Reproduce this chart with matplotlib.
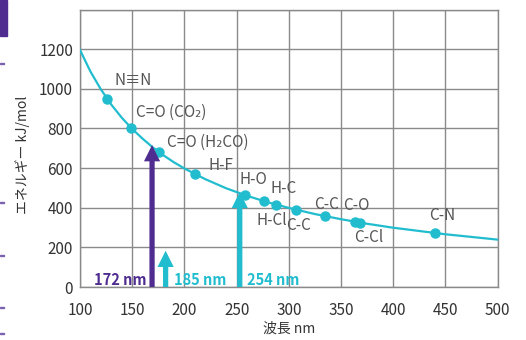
import matplotlib
matplotlib.use("Agg")
import matplotlib.pyplot as plt
from matplotlib.patches import Rectangle

plt.rcParams['font.family'] = ['Noto Sans CJK JP', 'DejaVu Sans']

# Curve E(λ)
curve_wl = [100, 110, 120, 130, 140, 150, 160, 170, 180, 190, 200, 220, 240,
            260, 280, 300, 325, 350, 375, 400, 450, 500]
curve_e = [1196, 1087, 997, 920, 854, 797, 748, 703, 664, 629, 598, 544, 498,
           460, 427, 399, 368, 342, 319, 299, 266, 239]

# Bond points
bond_labels = ["N≡N", "C=O (CO₂)", "C=O (H₂CO)", "H-F", "H-O", "H-Cl",
               "H-C", "C-C", "C-C", "C-O", "C-Cl", "C-N"]
bond_wl = [126, 149, 176, 210, 258, 276, 288, 307, 335, 363, 368, 440]
bond_e = [950, 803, 680, 570, 463, 433, 415, 390, 357, 329, 325, 272]

# Light source arrows (as drawn in the picture)
arrow_wl = [169, 182, 253]
arrow_e = [716, 183, 480]
arrow_labels = ["172 nm", "185 nm", "254 nm"]

x_ticks = [100, 150, 200, 250, 300, 350, 400, 450, 500]
y_ticks = [0, 200, 400, 600, 800, 1000, 1200]

PURPLE = "#4F2C8F"
CYAN = "#21BDCF"
GRID = "#8A8A8A"
TXT = "#555555"

fig = plt.figure(figsize=(5.26, 3.40), dpi=100)
ax = fig.add_axes([80/526, 1-287/340, (497.7-80)/526, (287-9.5)/340])
ax.set_xlim(100, 500)
ax.set_ylim(0, 1400)
ax.set_xticks(x_ticks)
ax.set_yticks(y_ticks + [1400])
ax.set_yticklabels([str(v) for v in y_ticks] + [""])
ax.grid(True, color=GRID, lw=1.0)
ax.set_axisbelow(True)
for s in ax.spines.values():
    s.set_color(GRID)
    s.set_linewidth(1.0)
ax.tick_params(length=0, labelsize=11, colors="#333333")
ax.tick_params(axis='y', pad=5)
ax.tick_params(axis='x', pad=11)

ax.plot(curve_wl, curve_e, color=CYAN, lw=1.6, zorder=3)
ax.plot(bond_wl, bond_e, 'o', color=CYAN, ms=6.5, zorder=4)

# label offsets (points) and alignment
offs = [(19, 13, 'center'), (3.5, 11.5, 'left'), (5.5, 7, 'left'), (19, 6, 'center'),
        (6, 11, 'center'), (6, -14, 'center'), (5, 11.5, 'center'), (1.5, -11.5, 'center'),
        (1, 8.5, 'center'), (1, 11.5, 'center'), (6.5, -11, 'center'), (5, 13, 'center')]
for lab, x, y, (dx, dy, ha) in zip(bond_labels, bond_wl, bond_e, offs):
    ax.annotate(lab, (x, y), xytext=(dx, dy), textcoords='offset points',
                ha=ha, va='center', fontsize=11, color=TXT, zorder=5)

arrow_colors = [PURPLE, CYAN, CYAN]
for x, e, c in zip(arrow_wl, arrow_e, arrow_colors):
    ax.arrow(x, 0, 0, e, width=5.0, head_width=15.5, head_length=82,
             length_includes_head=True, color=c, lw=0, zorder=6)

lab_off = [(-3.8, 'right'), (6, 'left'), (5, 'left')]
for x, lab, c, (dx, ha) in zip(arrow_wl, arrow_labels, arrow_colors, lab_off):
    ax.annotate(lab, (x, 0), xytext=(dx, 1.5), textcoords='offset points',
                ha=ha, va='baseline', fontsize=10.5, fontweight='bold', color=c)

fig.text(23/526, 1-155/340, "エネルギー kJ/mol", rotation=90, ha='center',
         va='center', fontsize=10, color="#333333")
fig.text(289/526, 1-329/340, "波長 nm", ha='center', va='center',
         fontsize=10, color="#333333")

# decorative edge marks from the page
fig.patches.append(Rectangle((0, 1-36/340), 7/526, 36/340, transform=fig.transFigure,
                             color=PURPLE, zorder=0))
for yy in [63, 202, 255, 307, 333]:
    fig.patches.append(Rectangle((0, 1-(yy+1)/340), 4/526, 1.5/340,
                                 transform=fig.transFigure, color="#7A62B0", zorder=0))

fig.savefig("out.png", dpi=100)
